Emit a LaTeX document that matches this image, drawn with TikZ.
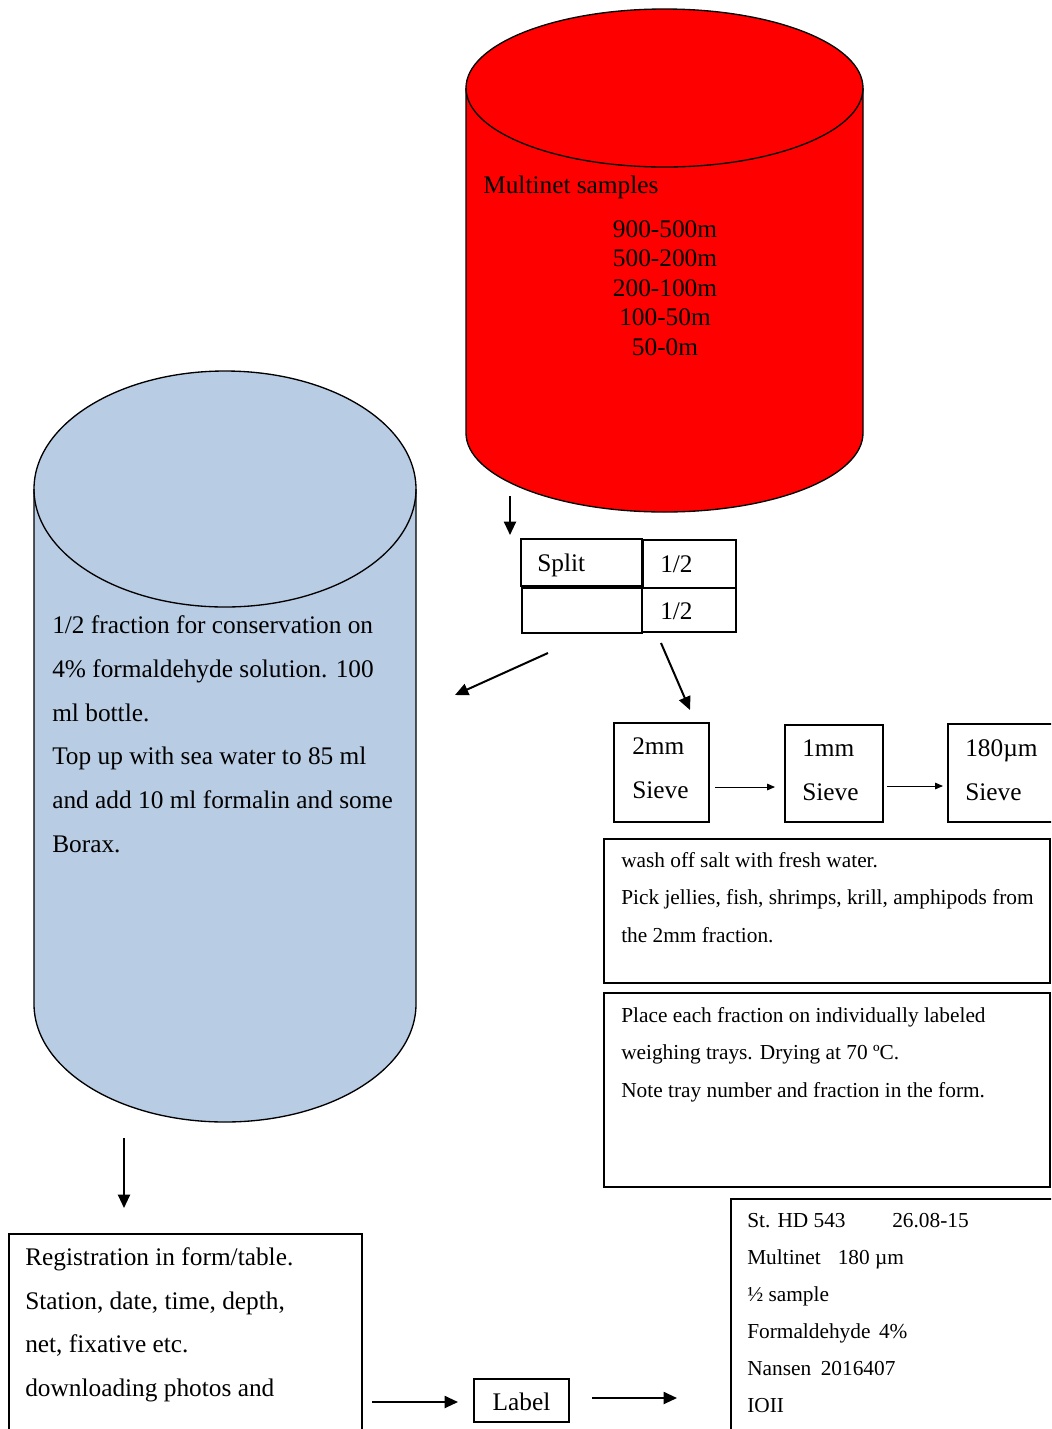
\documentclass[tikz,border=0pt]{standalone}
\usepackage{fontspec}
\setmainfont{Liberation Serif}
\usetikzlibrary{arrows.meta,fit}
\definecolor{samplered}{HTML}{FF0000}
\definecolor{bottleblue}{HTML}{B8CCE4}

\tikzset{
  boxed/.style={draw, line width=1pt, inner sep=0pt},
  splitcell/.style={draw, line width=1.5pt, inner sep=0pt},
  txt/.style={anchor=base west, inner sep=0pt},
  ctxt/.style={anchor=base, inner sep=0pt},
  big/.style={font=\fontsize{19}{22}\selectfont},
  small/.style={font=\fontsize{16}{19}\selectfont},
  flow/.style={line width=1.5pt, -{Triangle[length=10pt,width=9pt]}},
  thinflow/.style={line width=0.75pt, -{Triangle[length=6pt,width=5pt]}},
  cylline/.style={line width=1pt}
}

\begin{document}
\begin{tikzpicture}[x=0.75pt,y=-0.75pt]
\useasboundingbox (0,0) rectangle (1051,1429);
\clip (0,0) rectangle (1051,1429);
\fill[white] (0,0) rectangle (1051,1429);

% ---- red cylinder: multinet samples ----
\fill[samplered] (466,88) -- (466,433)
  arc[start angle=180, end angle=0, x radius=198.5, y radius=79] -- (863,88) -- cycle;
\fill[samplered] (664.5,88) ellipse[x radius=198.5, y radius=79];
\draw[cylline] (466,88) -- (466,433)
  arc[start angle=180, end angle=0, x radius=198.5, y radius=79] -- (863,88);
\draw[cylline] (664.5,88) ellipse[x radius=198.5, y radius=79];

\node[txt, big] (mtitle) at (483,193) {Multinet samples};
\node[ctxt, big] (d1) at (665,237) {900-500m};
\node[ctxt, big] (d2) at (665,266.5) {500-200m};
\node[ctxt, big] (d3) at (665,296) {200-100m};
\node[ctxt, big] (d4) at (665,325.5) {100-50m};
\node[ctxt, big] (d5) at (665,355) {50-0m};

% ---- blue cylinder: conservation bottle ----
\fill[bottleblue] (34,489) -- (34,1004)
  arc[start angle=180, end angle=0, x radius=191, y radius=118] -- (416,489) -- cycle;
\fill[bottleblue] (225,489) ellipse[x radius=191, y radius=118];
\draw[cylline] (34,489) -- (34,1004)
  arc[start angle=180, end angle=0, x radius=191, y radius=118] -- (416,489);
\draw[cylline] (225,489) ellipse[x radius=191, y radius=118];

\node[txt, big] (b1) at (52,633) {1/2 fraction for conservation on};
\node[txt, big] (b2) at (52,677) {4\% formaldehyde solution. 100};
\node[txt, big] (b3) at (52,721) {ml bottle.};
\node[txt, big] (b4) at (52,764) {Top up with sea water to 85 ml};
\node[txt, big] (b5) at (52,808) {and add 10 ml formalin and some};
\node[txt, big] (b6) at (52,852) {Borax.};

% ---- split table ----
\node[splitcell, fit={(521,539) (642,586)}] (splitA) {};
\node[splitcell, fit={(643,540) (736,588)}] (splitB) {};
\node[splitcell, fit={(522,588) (642,633)}] (splitC) {};
\node[splitcell, fit={(642,588) (736,632)}] (splitD) {};
\node[txt, big] (splitT) at (537,571) {Split};
\node[txt, big] (halfA) at (660,572) {1/2};
\node[txt, big] (halfB) at (660,619) {1/2};

\coordinate (r0) at (510,496);
\coordinate (r1) at (510,535);
\draw[flow] (r0) -- (r1);
\coordinate (l0) at (548,653);
\coordinate (l1) at (455,695);
\draw[flow] (l0) -- (l1);
\coordinate (k0) at (661,643);
\coordinate (k1) at (690,710);
\draw[flow] (k0) -- (k1);

% ---- sieves ----
\node[boxed, fit={(614,723) (709,822)}] (sv1) {};
\node[boxed, fit={(785,725) (883,822)}] (sv2) {};
\node[boxed, fit={(948,724) (1070,822)}] (sv3) {};
\node[txt, big] (sv1a) at (632,754) {2mm};
\node[txt, big] (sv1b) at (632,798) {Sieve};
\node[txt, big] (sv2a) at (802,756) {1mm};
\node[txt, big] (sv2b) at (802,800) {Sieve};
\node[txt, big] (sv3a) at (965,756) {180µm};
\node[txt, big] (sv3b) at (965,800) {Sieve};
\coordinate (s0) at (715,787);
\coordinate (s1) at (775,787);
\draw[thinflow] (s0) -- (s1);
\coordinate (t0) at (887,786);
\coordinate (t1) at (943,786);
\draw[thinflow] (t0) -- (t1);

% ---- sorting and drying ----
\node[boxed, fit={(604,839) (1050,983)}] (wash) {};
\node[txt, small] (w1) at (621,867) {wash off salt with fresh water.};
\node[txt, small] (w2) at (621,904) {Pick jellies, fish, shrimps, krill, amphipods from};
\node[txt, small] (w3) at (621,942) {the 2mm fraction.};

\node[boxed, fit={(604,993) (1050,1187)}] (dry) {};
\node[txt, small] (p1) at (621,1022) {Place each fraction on individually labeled};
\node[txt, small] (p2) at (621,1059) {weighing trays. Drying at 70 ºC.};
\node[txt, small] (p3) at (621,1097) {Note tray number and fraction in the form.};

% ---- registration and labelling ----
\coordinate (v0) at (124,1138);
\coordinate (v1) at (124,1208);
\draw[flow] (v0) -- (v1);

\node[boxed, fit={(9,1234) (362,1450)}] (reg) {};
\node[txt, big] (g1) at (25,1265) {Registration in form/table.};
\node[txt, big] (g2) at (25,1309) {Station, date, time, depth,};
\node[txt, big] (g3) at (25,1352) {net, fixative etc.};
\node[txt, big] (g4) at (25,1396) {downloading photos and};

\node[boxed, fit={(474,1379) (569,1422)}] (lab) {};
\node[ctxt, big] (labT) at (521.5,1410) {Label};
\coordinate (h0) at (372,1402);
\coordinate (h1) at (458,1402);
\draw[flow] (h0) -- (h1);
\coordinate (i0) at (592,1398);
\coordinate (i1) at (677,1398);
\draw[flow] (i0) -- (i1);

\node[boxed, fit={(731,1199) (1070,1450)}] (info) {};
\node[txt, small] (n1) at (747,1227) {St. HD 543};
\node[txt, small] (n1b) at (892,1227) {26.08-15};
\node[txt, small] (n2) at (747,1264) {Multinet\hspace{0.8em}180 µm};
\node[txt, small] (n3) at (747,1301) {½ sample};
\node[txt, small] (n4) at (747,1338) {Formaldehyde\hspace{0.4em}4\%};
\node[txt, small] (n5) at (747,1375) {Nansen\hspace{0.45em}2016407};
\node[txt, small] (n6) at (747,1412) {IOII};
\end{tikzpicture}
\end{document}
